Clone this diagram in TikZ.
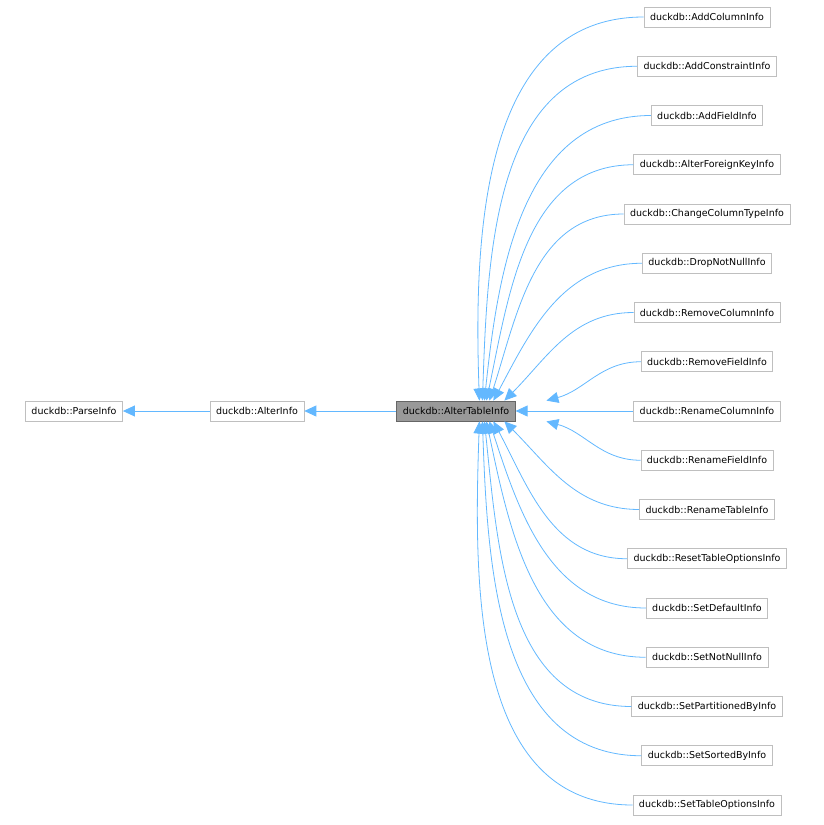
\documentclass[tikz,border=0pt]{standalone}
\usepackage{fontspec}
\setmainfont{DejaVu Sans}
\usetikzlibrary{arrows.meta,calc}
\definecolor{edgeblue}{HTML}{63B8FF}
\definecolor{boxgray}{HTML}{BFBFBF}
\tikzset{
  cls/.style={draw=boxgray,fill=white,line width=0.8pt,minimum height=20pt,
    inner xsep=6pt,inner ysep=0pt,font=\fontsize{9.5}{11}\selectfont},
  main/.style={cls,draw=black!60,fill=black!40},
  edge/.style={draw=edgeblue,line width=0.8pt,
    {Triangle[length=12pt,width=11pt,fill=edgeblue]}-}
}
\begin{document}
\begin{tikzpicture}[x=1pt,y=-1pt]
  \useasboundingbox (0,0) rectangle (823,825);
  \node[cls] (parse) at (74,411) {duckdb::ParseInfo};
  \node[cls] (alter) at (257,411) {duckdb::AlterInfo};
  \node[main] (ati) at (456,411) {duckdb::AlterTableInfo};
  \draw[edge] (parse.east) -- (alter.west);
  \draw[edge] (alter.east) -- (ati.west);
  % derived classes
  \foreach \name [count=\i] in {AddColumnInfo,AddConstraintInfo,AddFieldInfo,
      AlterForeignKeyInfo,ChangeColumnTypeInfo,DropNotNullInfo,RemoveColumnInfo,
      RemoveFieldInfo,RenameColumnInfo,RenameFieldInfo,RenameTableInfo,
      ResetTableOptionsInfo,SetDefaultInfo,SetNotNullInfo,SetPartitionedByInfo,
      SetSortedByInfo,SetTableOptionsInfo} {
    \node[cls] (d\i) at (707,{17+(\i-1)*49.25}) {duckdb::\name};
  }
  \draw[edge] (ati.east) -- (d9.west);
  \foreach \i/\dx/\a in {1/83/92,2/86/88,3/88/84,4/90/78,5/93/72,6/97/62,7/108/45,8/150/15} {
    \draw[edge] ($(ati.north west)+(\dx,0)$) to[out=\a,in=180] (d\i.west);
  }
  \foreach \i/\dx/\a in {10/150/-15,11/108/-45,12/97/-62,13/93/-72,14/90/-78,15/88/-84,16/86/-88,17/83/-92} {
    \draw[edge] ($(ati.south west)+(\dx,0)$) to[out=\a,in=180] (d\i.west);
  }
\end{tikzpicture}
\end{document}
